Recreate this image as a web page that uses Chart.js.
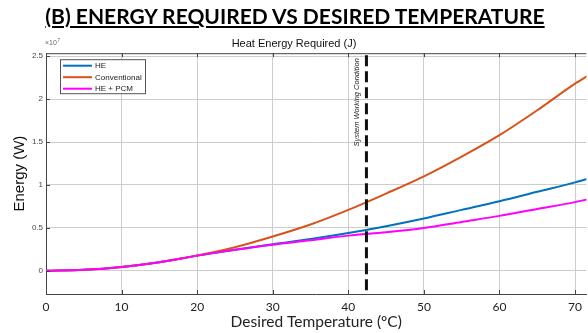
<!DOCTYPE html>
<html>
<head>
<meta charset="utf-8">
<script src="https://cdn.jsdelivr.net/npm/chart.js@4/dist/chart.umd.min.js"></script>
<style>
  html, body { margin: 0; padding: 0; background: #fff; }
  #wrap { position: relative; width: 588px; height: 333px; overflow: hidden; }
  #heading {
    position: absolute; left: 0; top: 3px; width: 590px; text-align: center;
    font: bold 21px Lato, "Open Sans", sans-serif; color: #000; line-height: 26px;
    text-decoration: underline; text-decoration-thickness: 2px; text-underline-offset: 2px;
    white-space: nowrap;
  }
  canvas { position: absolute; left: 0; top: 0; }
</style>
</head>
<body>
<div id="wrap">
  <canvas id="energy-chart" width="588" height="333"></canvas>
  <div id="heading">(B) ENERGY REQUIRED VS DESIRED TEMPERATURE</div>
</div>
<script>
// desired temperature (ºC)
const temps = [0, 5, 10, 15, 20, 25, 30, 35, 40, 45, 50, 55, 60, 65, 70, 72];
// energy, in units of 10^7
const heValues =           [0, 0.012, 0.045, 0.10, 0.177, 0.245, 0.31, 0.37, 0.44, 0.52, 0.61, 0.71, 0.81, 0.92, 1.03, 1.08];
const conventionalValues = [0, 0.012, 0.045, 0.10, 0.178, 0.275, 0.40, 0.54, 0.71, 0.90, 1.10, 1.33, 1.58, 1.87, 2.18, 2.29];
const hePcmValues =        [0, 0.012, 0.045, 0.10, 0.177, 0.245, 0.305, 0.355, 0.41, 0.45, 0.50, 0.57, 0.64, 0.72, 0.80, 0.84];
const seriesNames = ['HE', 'Conventional', 'HE + PCM'];
const seriesColors = ['#0072BD', '#D95319', '#FF00FF'];
const workingTemp = 42.4;
const xTicks = [0, 10, 20, 30, 40, 50, 60, 70];
const yTicks = [0, 0.5, 1, 1.5, 2, 2.5];

const overlay = {
    id: 'overlay',
    afterDatasetsDraw(chart) {
        const { ctx, chartArea: a, scales: { x, y } } = chart;
        ctx.save();

        // top edge of the box with inner ticks
        ctx.strokeStyle = '#444';
        ctx.lineWidth = 1;
        ctx.beginPath();
        ctx.moveTo(a.left, a.top + 0.5);
        ctx.lineTo(a.right, a.top + 0.5);
        xTicks.forEach(t => {
            const px = Math.round(x.getPixelForValue(t)) + 0.5;
            ctx.moveTo(px, a.top);
            ctx.lineTo(px, a.top + 4);
            ctx.moveTo(px, a.bottom);
            ctx.lineTo(px, a.bottom - 4);
        });
        yTicks.forEach(t => {
            const py = Math.round(y.getPixelForValue(t)) + 0.5;
            ctx.moveTo(a.left, py);
            ctx.lineTo(a.left + 4, py);
        });
        ctx.stroke();

        // system working condition line
        const wx = x.getPixelForValue(workingTemp);
        ctx.strokeStyle = '#111';
        ctx.lineWidth = 3;
        ctx.setLineDash([11, 5]);
        ctx.beginPath();
        ctx.moveTo(wx, a.top + 2);
        ctx.lineTo(wx, a.bottom);
        ctx.stroke();
        ctx.setLineDash([]);

        ctx.save();
        ctx.translate(wx - 9.5, a.top + 5);
        ctx.rotate(-Math.PI / 2);
        ctx.fillStyle = '#222';
        ctx.font = 'italic 7.5px "Liberation Sans", Arial, sans-serif';
        ctx.textAlign = 'right';
        ctx.textBaseline = 'middle';
        ctx.fillText('System Working Condition', 0, 0);
        ctx.restore();

        // legend box
        const lx = a.left + 14, ly = a.top + 6, lw = 85, lh = 34;
        ctx.fillStyle = '#fff';
        ctx.fillRect(lx, ly, lw, lh);
        ctx.strokeStyle = '#555';
        ctx.lineWidth = 1;
        ctx.strokeRect(lx + 0.5, ly + 0.5, lw, lh);
        ctx.font = '8px "Liberation Sans", Arial, sans-serif';
        ctx.textBaseline = 'middle';
        ctx.textAlign = 'left';
        seriesNames.forEach((name, i) => {
            const ry = ly + 6.5 + i * 11.5;
            ctx.strokeStyle = seriesColors[i];
            ctx.lineWidth = 2;
            ctx.beginPath();
            ctx.moveTo(lx + 3, ry);
            ctx.lineTo(lx + 32, ry);
            ctx.stroke();
            ctx.fillStyle = '#222';
            ctx.fillText(name, lx + 35, ry + 0.5);
        });

        // exponent
        ctx.fillStyle = '#666';
        ctx.font = '7px "Liberation Sans", Arial, sans-serif';
        ctx.textBaseline = 'alphabetic';
        const baseW = ctx.measureText('\u00d710').width;
        ctx.fillText('\u00d710', a.left - 1, a.top - 8);
        ctx.font = '5px "Liberation Sans", Arial, sans-serif';
        ctx.fillText('7', a.left - 0.5 + baseW, a.top - 11);

        ctx.restore();
    }
};

const datasets = [heValues, conventionalValues, hePcmValues].map((values, i) => ({
    label: seriesNames[i],
    data: temps.map((t, j) => ({ x: t, y: values[j] })),
    borderColor: seriesColors[i],
    backgroundColor: seriesColors[i],
    borderWidth: 2,
    pointRadius: 0,
    cubicInterpolationMode: 'monotone',
    order: [2, 1, 0][i]
}));

new Chart(document.querySelector('#energy-chart').getContext('2d'), {
    type: 'line',
    data: { datasets },
    options: {
        responsive: false,
        animation: false,
        layout: { padding: { top: 37, left: 0, right: 0, bottom: 0 } },
        plugins: {
            legend: { display: false },
            tooltip: { enabled: false },
            title: { display: false },
            subtitle: {
                display: true,
                text: 'Heat Energy Required (J)',
                color: '#111',
                font: { family: '"Liberation Sans", Arial', size: 11, weight: 'normal', lineHeight: 1.2 },
                padding: { top: 0, bottom: 3 }
            }
        },
        scales: {
            x: {
                type: 'linear',
                min: 0,
                max: 71.5,
                afterBuildTicks: s => { s.ticks = xTicks.map(v => ({ value: v })); },
                afterFit: s => { s.height = 39; },
                grid: { color: '#cdcdcd', drawTicks: false },
                border: { color: '#444', width: 1 },
                ticks: {
                    padding: 6,
                    color: '#222',
                    font: { family: 'Lato, "Open Sans", sans-serif', size: 12 },
                    maxRotation: 0
                },
                title: {
                    display: true,
                    text: 'Desired Temperature (\u00baC)',
                    color: '#222',
                    font: { family: 'Lato, "Open Sans", sans-serif', size: 15.5, lineHeight: 1 },
                    padding: { top: 0, bottom: 3 }
                }
            },
            y: {
                min: -0.27,
                max: 2.535,
                afterBuildTicks: s => { s.ticks = yTicks.map(v => ({ value: v })); },
                afterFit: s => { s.width = 46; },
                grid: { color: '#cdcdcd', drawTicks: false },
                border: { color: '#444', width: 1 },
                ticks: {
                    padding: 3,
                    color: '#444',
                    font: { family: '"Liberation Sans", Arial', size: 8 },
                    callback: v => String(v)
                },
                title: {
                    display: true,
                    text: 'Energy (W)',
                    color: '#111',
                    font: { family: '"Liberation Sans", Arial', size: 15, lineHeight: 1 },
                    padding: { top: 12, bottom: 0 }
                }
            }
        }
    },
    plugins: [overlay]
});
</script>
</body>
</html>
